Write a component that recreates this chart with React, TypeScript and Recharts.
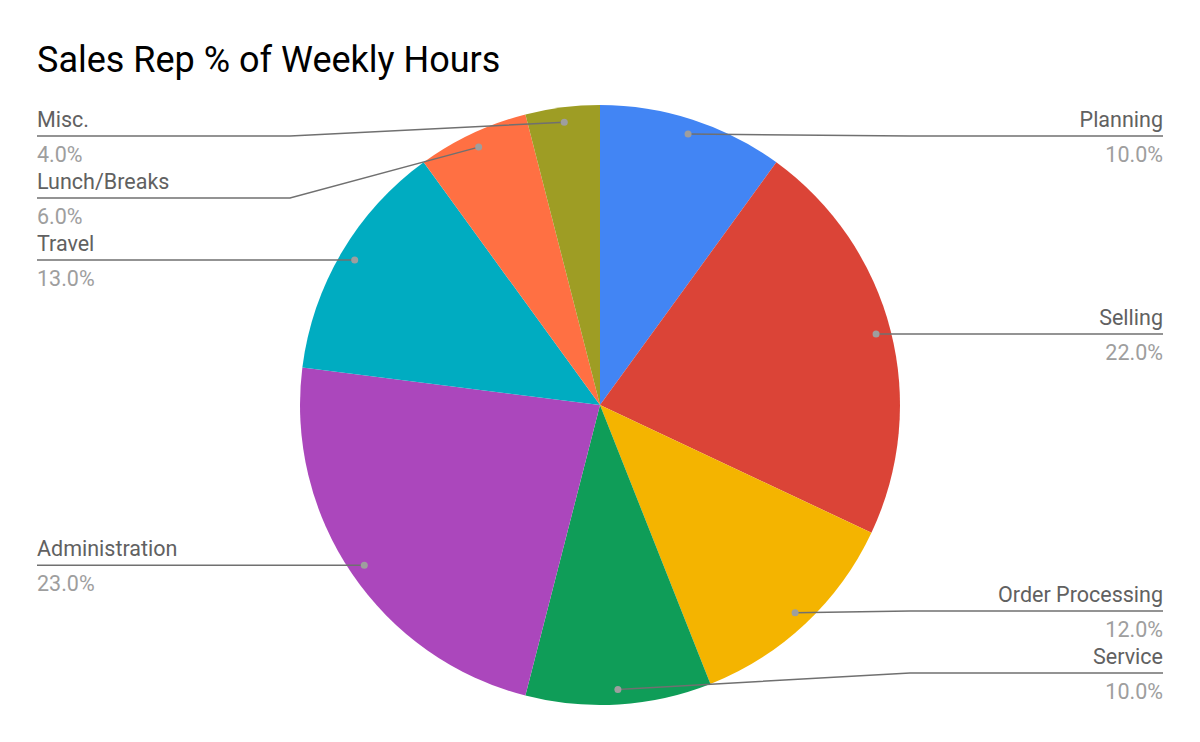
import { PieChart, Pie, Cell } from "recharts";

const categories = ["Planning", "Selling", "Order Processing", "Service", "Administration", "Travel", "Lunch/Breaks", "Misc."];
const shares = [10, 22, 12, 10, 23, 13, 6, 4];
const colors = ["#4285f4", "#db4437", "#f4b400", "#0f9d58", "#ab47bc", "#00acc1", "#ff7043", "#9e9d24"];

const data = categories.map((name, i) => ({ name, value: shares[i] }));

// recharts adds its 5px default margin to cx/cy, so the pie lands at (600, 405)
const CX = 595;
const CY = 400;
const MARGIN = 5;
const R = 300;
const DOT_R = 285;
const ELBOW = 310;
const TOP_Y = 136;
const BOTTOM_Y = 673;
const GAP = 62;
const RAD = Math.PI / 180;

// work out where each label's line sits, pushing labels apart like the sheet does
function layoutLabels() {
  const total = shares.reduce((a, b) => a + b, 0);
  let acc = 0;
  const items = shares.map((v, i) => {
    const mid = 90 - ((acc + v / 2) / total) * 360;
    acc += v;
    const x = CX + MARGIN + DOT_R * Math.cos(-mid * RAD);
    const y = CY + MARGIN + DOT_R * Math.sin(-mid * RAD);
    return { i, right: x >= CX + MARGIN, y: Math.min(BOTTOM_Y, Math.max(TOP_Y, y)) };
  });
  const ys: number[] = [];
  [true, false].forEach((side) => {
    const group = items.filter((d) => d.right === side).sort((a, b) => a.y - b.y);
    for (let k = 1; k < group.length; k++) {
      if (group[k].y < group[k - 1].y + GAP) group[k].y = group[k - 1].y + GAP;
    }
    for (let k = group.length - 1; k >= 0; k--) {
      if (k === group.length - 1) group[k].y = Math.min(group[k].y, BOTTOM_Y);
      else if (group[k].y > group[k + 1].y - GAP) group[k].y = group[k + 1].y - GAP;
    }
    group.forEach((d) => (ys[d.i] = d.y));
  });
  return ys;
}

const labelYs = layoutLabels();

function renderLabel(props: any) {
  const { cx, cy, midAngle, index, name, percent } = props;
  const dx = cx + DOT_R * Math.cos(-midAngle * RAD);
  const dy = cy + DOT_R * Math.sin(-midAngle * RAD);
  const right = dx >= cx;
  const ly = labelYs[index];
  const ex = right ? cx + ELBOW : cx - ELBOW;
  const tx = right ? 1163 : 37;
  const anchor = right ? "end" : "start";
  return (
    <g key={`lbl-${index}`}>
      <path d={`M${dx},${dy}L${ex},${ly}L${tx},${ly}`} stroke="#707070" strokeWidth={1.5} fill="none" />
      <circle cx={dx} cy={dy} r={3.5} fill="#9e9e9e" />
      <text x={tx} y={ly - 9} textAnchor={anchor} fontSize={21.5} fill="#616161" fontFamily="Roboto">
        {name}
      </text>
      <text x={tx} y={ly + 26} textAnchor={anchor} fontSize={21.5} fill="#9e9e9e" fontFamily="Roboto">
        {(percent * 100).toFixed(1)}%
      </text>
    </g>
  );
}

export default function App() {
  return (
    <div style={{ position: "absolute", left: 0, top: 0, width: 1200, height: 742, background: "#fff" }}>
      <div
        style={{
          position: "absolute",
          left: 37,
          top: 38,
          fontFamily: "Roboto",
          fontSize: 36,
          color: "#000",
          lineHeight: "44px",
        }}
      >
        Sales Rep % of Weekly Hours
      </div>
      <PieChart width={1200} height={742}>
        <Pie
          data={data}
          dataKey="value"
          nameKey="name"
          cx={CX}
          cy={CY}
          outerRadius={R}
          startAngle={90}
          endAngle={-270}
          stroke="none"
          label={renderLabel}
          labelLine={false}
          isAnimationActive={false}
        >
          {data.map((d, i) => (
            <Cell key={d.name} fill={colors[i]} />
          ))}
        </Pie>
      </PieChart>
    </div>
  );
}
